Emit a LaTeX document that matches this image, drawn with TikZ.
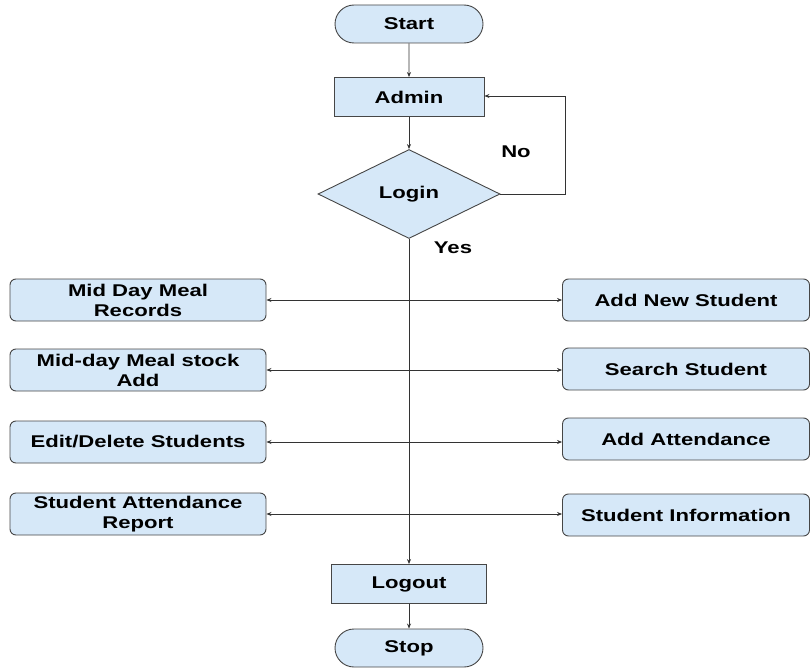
\documentclass[tikz,border=0pt]{standalone}
\usepackage{fontspec}
\setmainfont[FakeStretch=1.3]{Liberation Sans}
\usetikzlibrary{shapes.geometric,shapes.misc,arrows.meta}
\definecolor{boxfill}{RGB}{214,232,248}
\definecolor{boxline}{RGB}{70,70,70}
\tikzset{
  base/.style={draw=boxline, line width=0.9pt, fill=boxfill, font=\bfseries\fontsize{17}{20}\selectfont, align=center, inner sep=0pt},
  term/.style={base, rounded rectangle, minimum width=148pt, minimum height=38pt},
  proc/.style={base, rectangle, minimum width=150pt, minimum height=39pt},
  dec/.style={base, diamond, minimum width=182pt, minimum height=89pt, aspect=2.05},
  lbox/.style={base, rectangle, rounded corners=6pt, minimum width=256pt, minimum height=42pt},
  rbox/.style={base, rectangle, rounded corners=6pt, minimum width=247pt, minimum height=42pt},
  arr/.style={draw=black!80, line width=0.7pt, -{Stealth[length=5pt,width=4pt]}},
  lab/.style={font=\bfseries\fontsize{17}{20}\selectfont}
}
\begin{document}
\begin{tikzpicture}[x=1pt,y=-1pt]
\useasboundingbox (0,0) rectangle (811,669);
\node[term] (start) at (409,24) {Start};
\node[proc] (admin) at (409,97) {Admin};
\node[dec] (login) at (409,194) {Login};
\node[lab] (no) at (516,152) {No};
\node[lab] (yes) at (453,248) {Yes};

\node[lbox] (mdm) at (138,300) {Mid Day Meal\\Records};
\node[lbox] (stock) at (138,370) {Mid-day Meal stock\\Add};
\node[lbox] (edit) at (138,442) {Edit/Delete Students};
\node[lbox] (sar) at (138,514) {Student Attendance\\Report};

\node[rbox] (ans) at (686,300) {Add New Student};
\node[rbox] (ss) at (686,369) {Search Student};
\node[rbox] (aa) at (686,439) {Add Attendance};
\node[rbox] (si) at (686,515) {Student Information};

\node[proc, minimum width=155pt] (logout) at (409,584) {Logout};
\node[term] (stop) at (409,648) {Stop};

\coordinate (j1) at (409,300);
\coordinate (j2) at (409,370);
\coordinate (j3) at (409,442);
\coordinate (j4) at (409,514);
\coordinate (c1) at (565,194);
\coordinate (c2) at (565,96);

\draw[arr] (start) -- (admin);
\draw[arr] (admin) -- (login);
\draw[arr] (login.east) -- (c1) -- (c2) -- (admin.east |- c2);
\draw[arr] (login.south) -- (logout.north);
\draw[arr] (logout) -- (stop);

\draw[arr] (j1) -- (mdm.east |- j1);
\draw[arr] (j1) -- (ans.west |- j1);
\draw[arr] (j2) -- (stock.east |- j2);
\draw[arr] (j2) -- (ss.west |- j2);
\draw[arr] (j3) -- (edit.east |- j3);
\draw[arr] (j3) -- (aa.west |- j3);
\draw[arr] (j4) -- (sar.east |- j4);
\draw[arr] (j4) -- (si.west |- j4);
\end{tikzpicture}
\end{document}
